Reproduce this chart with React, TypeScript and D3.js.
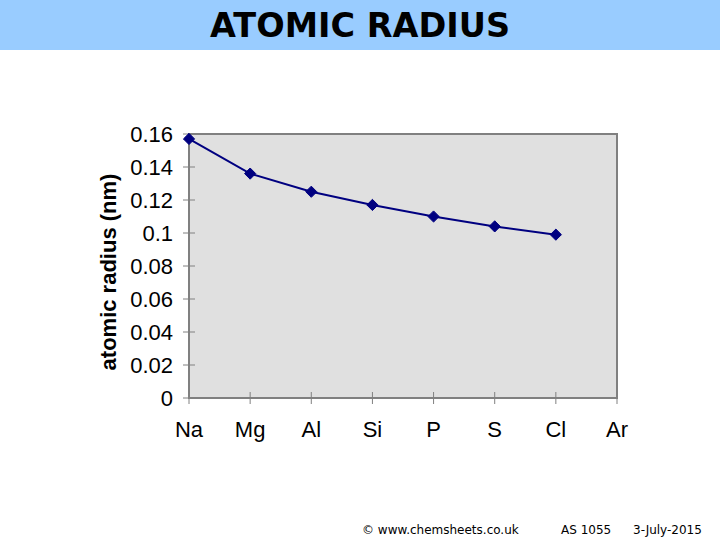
import React from "react";
import * as d3 from "d3";

const categories = ["Na", "Mg", "Al", "Si", "P", "S", "Cl", "Ar"];
const radii: (number | null)[] = [0.157, 0.136, 0.125, 0.117, 0.11, 0.104, 0.099, null];
const yTicks = [0, 0.02, 0.04, 0.06, 0.08, 0.1, 0.12, 0.14, 0.16];
const yTickLabels = ["0", "0.02", "0.04", "0.06", "0.08", "0.1", "0.12", "0.14", "0.16"];
const title = "ATOMIC RADIUS";
const yTitle = "atomic radius (nm)";
const footer = ["© www.chemsheets.co.uk", "AS 1055", "3-July-2015"];

export default function App() {
  const W = 720, H = 540;
  const left = 189, right = 617, top = 134, bottom = 398;
  const x = d3.scalePoint<string>().domain(categories).range([left, right]);
  const y = d3.scaleLinear().domain([0, 0.16]).range([bottom, top]);
  const pts = categories
    .map((c, i) => ({ c, v: radii[i] }))
    .filter((d) => d.v !== null) as { c: string; v: number }[];
  const line = d3
    .line<{ c: string; v: number }>()
    .x((d) => x(d.c)!)
    .y((d) => y(d.v));
  const diamond = d3.symbol().type(d3.symbolDiamond2).size(80)();
  return (
    <svg
      width={W}
      height={H}
      style={{ position: "absolute", left: 0, top: 0, display: "block" }}
    >
      <rect x={0} y={0} width={W} height={H} fill="#ffffff" />
      <rect x={0} y={0} width={W} height={50} fill="#99ccff" />
      <text
        x={360}
        y={37}
        textAnchor="middle"
        fontFamily="DejaVu Sans"
        fontWeight="bold"
        fontSize={33.5}
        fill="#000"
      >
        {title}
      </text>
      <rect
        x={left}
        y={top}
        width={right - left}
        height={bottom - top}
        fill="#e0e0e0"
        stroke="#808080"
        strokeWidth={2}
      />
      {yTicks.map((t, i) => (
        <g key={"y" + i}>
          <line x1={left - 6} x2={left + 6} y1={y(t)} y2={y(t)} stroke="#808080" strokeWidth={1} />
          <text
            x={173}
            y={y(t)}
            dy="0.36em"
            textAnchor="end"
            fontFamily="Liberation Sans, Arial"
            fontSize={22}
            fill="#000"
          >
            {yTickLabels[i]}
          </text>
        </g>
      ))}
      {categories.map((c) => (
        <g key={c}>
          <line x1={x(c)} x2={x(c)} y1={bottom - 6} y2={bottom + 6} stroke="#808080" strokeWidth={1} />
          <text
            x={x(c)}
            y={437}
            textAnchor="middle"
            fontFamily="Liberation Sans, Arial"
            fontSize={22}
            fill="#000"
          >
            {c}
          </text>
        </g>
      ))}
      <text
        transform={`translate(116,272) rotate(-90)`}
        textAnchor="middle"
        fontFamily="Liberation Sans, Arial"
        fontWeight="bold"
        fontSize={22}
        fill="#000"
      >
        {yTitle}
      </text>
      <path d={line(pts)!} fill="none" stroke="#000080" strokeWidth={2} />
      {pts.map((d) => (
        <path
          key={d.c}
          d={diamond!}
          transform={`translate(${x(d.c)},${y(d.v)})`}
          fill="#000080"
          stroke="#000080"
          strokeWidth={1}
        />
      ))}
      <text x={362} y={534} fontFamily="DejaVu Sans" fontSize={12} fill="#000">
        {footer[0]}
      </text>
      <text x={561} y={534} fontFamily="DejaVu Sans" fontSize={12} fill="#000">
        {footer[1]}
      </text>
      <text x={633} y={534} fontFamily="DejaVu Sans" fontSize={12} fill="#000">
        {footer[2]}
      </text>
    </svg>
  );
}
